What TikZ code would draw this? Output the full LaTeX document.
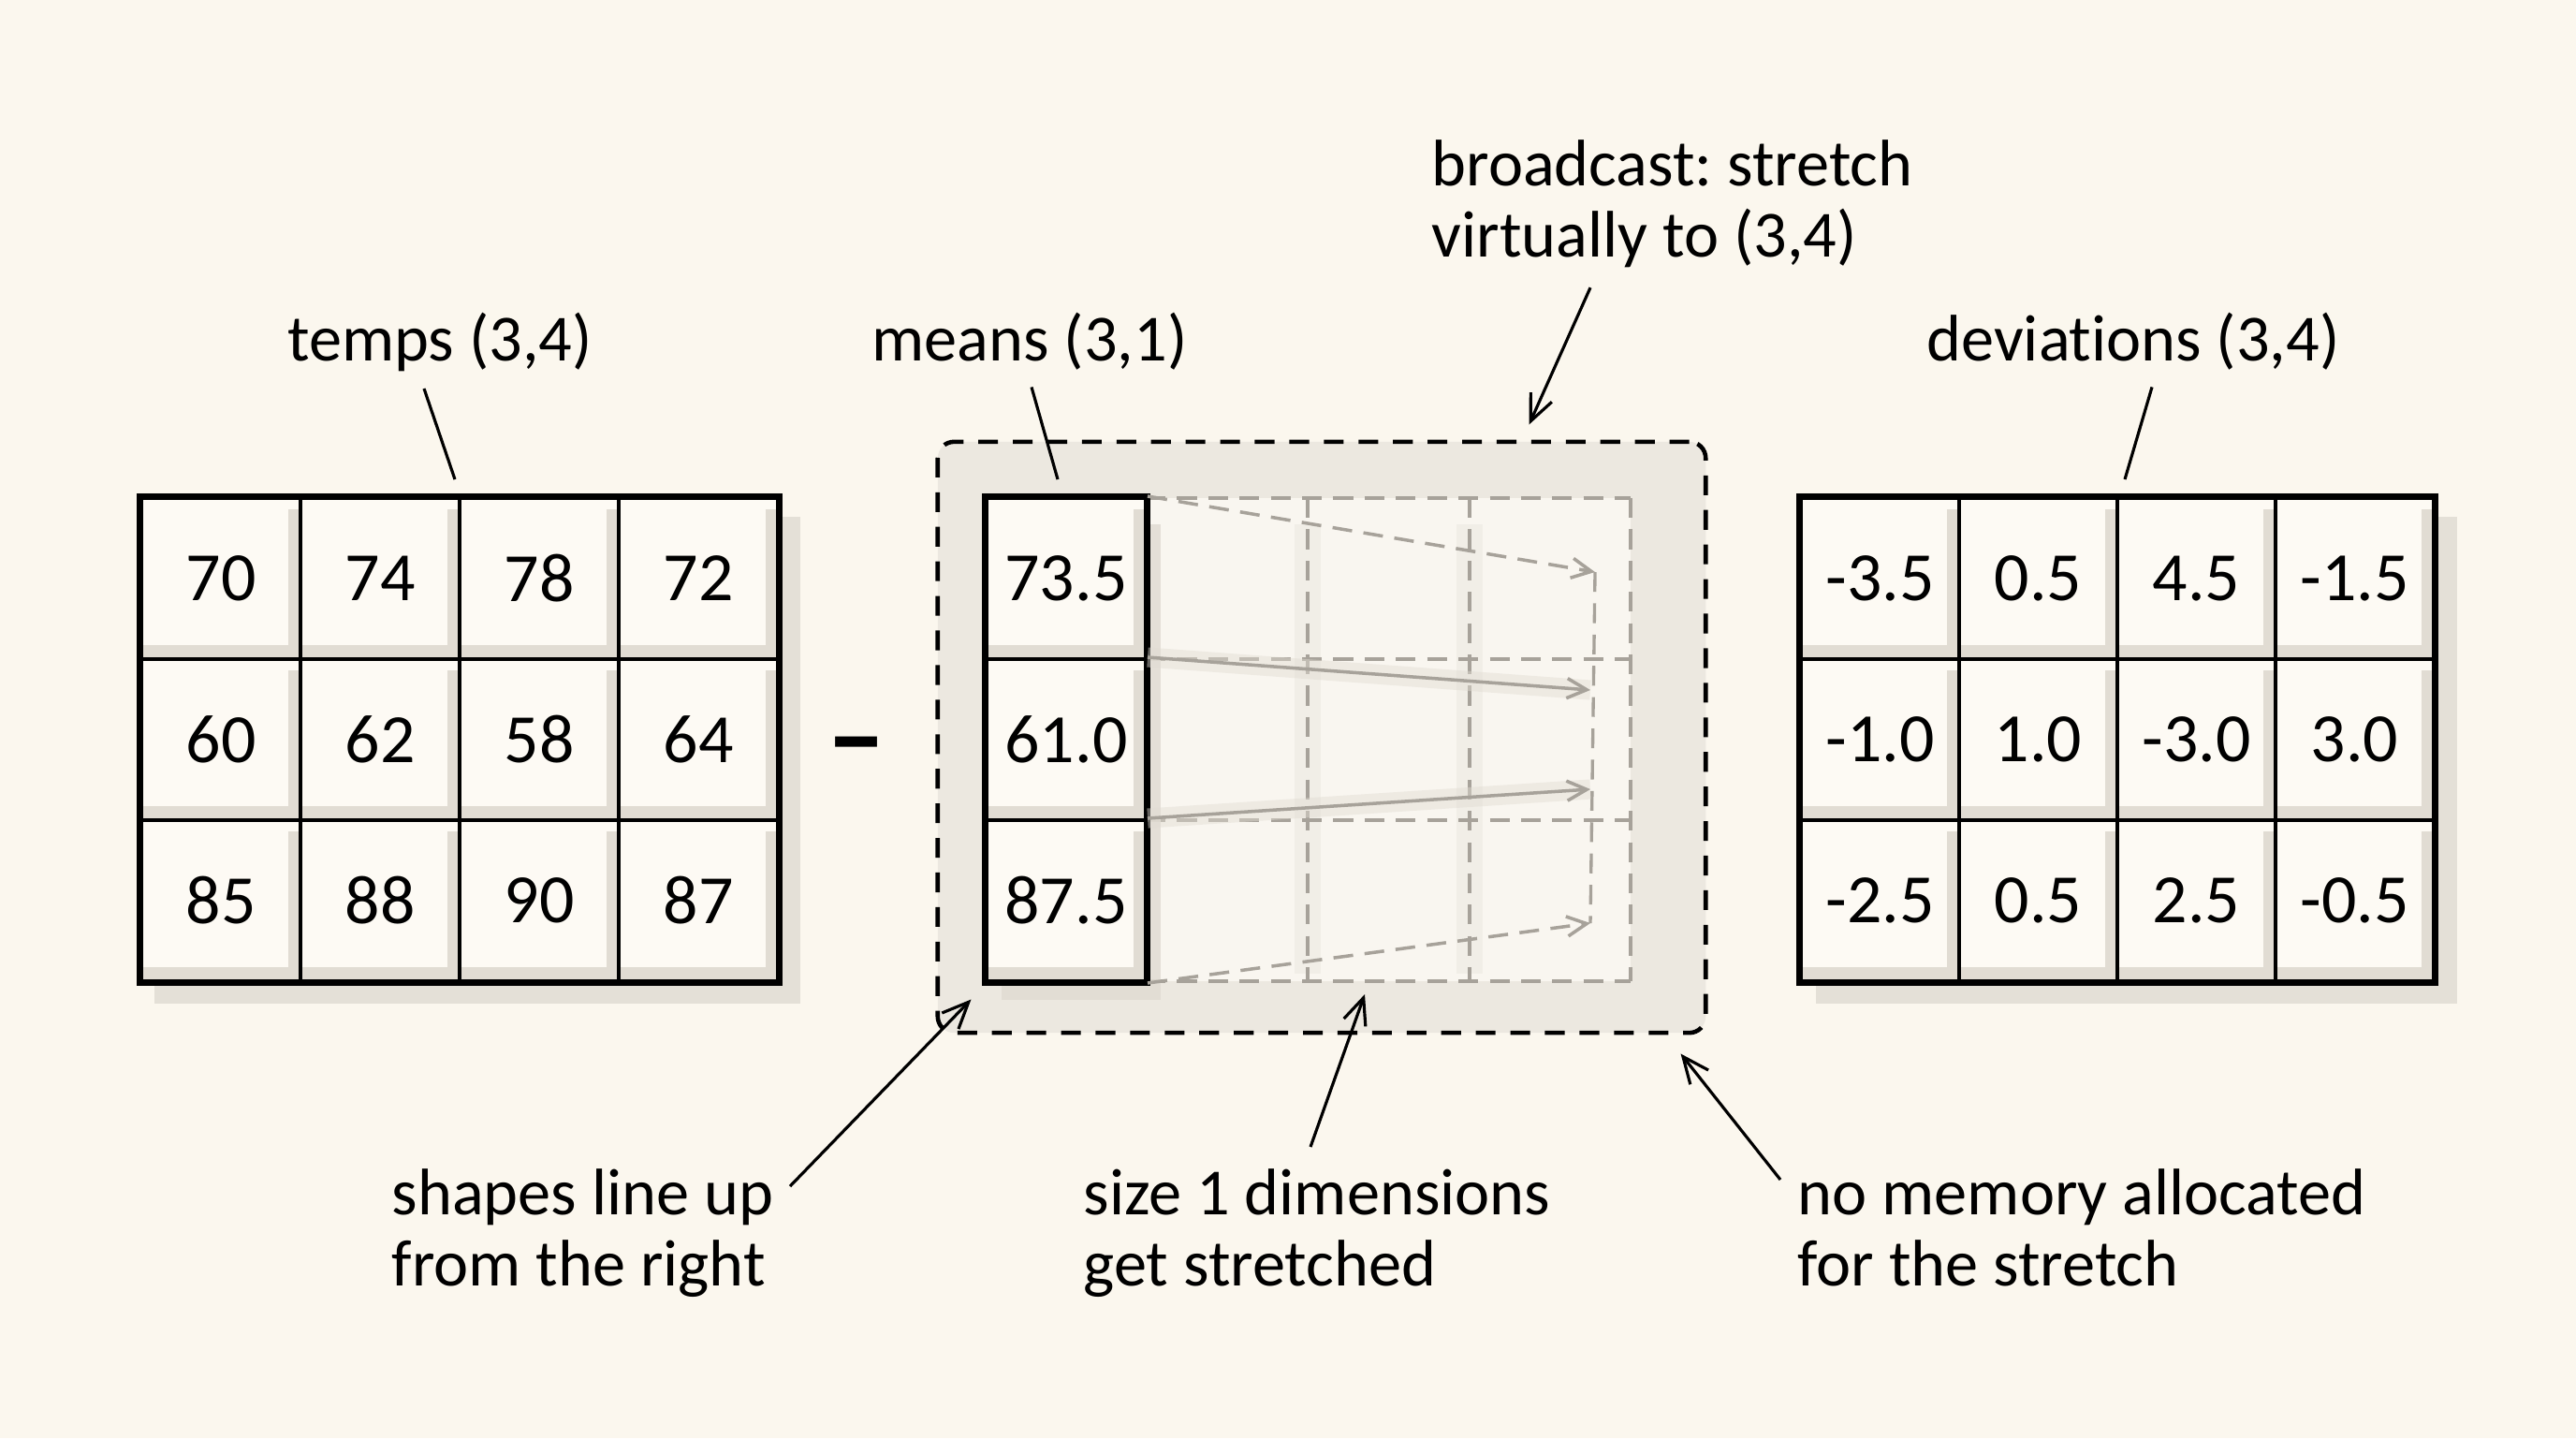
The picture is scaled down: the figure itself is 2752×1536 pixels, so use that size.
\documentclass[tikz,border=0pt]{standalone}
\usepackage{fontspec}
\setmainfont{Carlito}[Ligatures={NoCommon,NoRare,NoContextual,NoRequired}]
\usetikzlibrary{arrows.meta,positioning}
\frenchspacing

\definecolor{paper}{HTML}{FBF7EE}
\definecolor{cellpaper}{HTML}{FDFAF4}
\definecolor{wash}{HTML}{E1DCD3}
\definecolor{washlight}{HTML}{ECE8E0}
\definecolor{ghostgray}{HTML}{A7A29A}

\begin{document}
\begin{tikzpicture}[x=0.01cm,y=-0.01cm]
\tikzset{
  gridcell/.style={draw=black,line width=1.1pt,fill=cellpaper,minimum width=1.7cm,minimum height=1.72cm,inner sep=0pt,
    font=\fontsize{21}{21}\selectfont,
    path picture={
      \fill[wash] ([xshift=-0.13cm,yshift=-0.12cm]path picture bounding box.north east) rectangle (path picture bounding box.south east);
      \fill[wash] ([yshift=0.15cm]path picture bounding box.south west) rectangle (path picture bounding box.south east);
    }},
  gridframe/.style={draw=black,line width=1.6pt},
  gridshadow/.style={fill=wash,opacity=0.85},
  labeltext/.style={font=\fontsize{20}{21.5}\selectfont,inner sep=0pt},
  notetext/.style={labeltext,align=left,anchor=north west},
  leader/.style={draw=black,line width=0.9pt},
  callout/.style={leader,-{Straight Barb[length=8pt,width=7pt,line width=0.9pt]}},
  ghostline/.style={draw=ghostgray,line width=0.95pt,dash pattern=on 6pt off 3.5pt},
  stretcharrow/.style={draw=ghostgray,line width=1pt,-{Straight Barb[length=6pt,width=6pt]}},
  stretchbox/.style={draw=black,line width=1.3pt,dash pattern=on 6pt off 4.5pt,rounded corners=5pt,fill=washlight,
    minimum width=8.2cm,minimum height=6.31cm,inner sep=0pt}
}
% paper
\fill[paper] (0,0) rectangle (2752,1536);
\useasboundingbox (0,0) rectangle (2752,1536);

% temps grid
\fill[gridshadow] (165,552) rectangle (855,1072);
\foreach \r/\vals in {1/{70,74,78,72},2/{60,62,58,64},3/{85,88,90,87}}
  \foreach \v [count=\c] in \vals
    \node[gridcell] (t\r\c) at ({151+170*(\c-0.5)},{532+172*(\r-0.5)}) {\v};
\draw[gridframe] (t11.north west) rectangle (t34.south east);

\node[font=\fontsize{36}{36}\selectfont\bfseries] (minus) at (915,808) {–};

% broadcast box with the virtual columns
\node[stretchbox] (bbox) at (1412,787.5) {};
\fill[cellpaper,opacity=0.8] (1224,532) rectangle (1742,1048);
\foreach \gx in {1397,1570}
  \fill[wash,opacity=0.3] (\gx-14,560) rectangle (\gx+14,1040);
\foreach \gy in {532,704,876,1048}
  \draw[ghostline] (1224,\gy) -- (1742,\gy);
\foreach \gx in {1397,1570,1742}
  \draw[ghostline] (\gx,532) -- (\gx,1048);

% means column
\fill[gridshadow] (1070,560) rectangle (1240,1068);
\foreach \v [count=\r] in {73.5,61.0,87.5}
  \node[gridcell] (m\r) at (1139,{532+172*(\r-0.5)}) {\v};
\draw[gridframe] (m1.north west) rectangle (m3.south east);

\coordinate (tip1) at (1704,611);
\coordinate (tip2) at (1699,737);
\coordinate (tip3) at (1699,843);
\coordinate (tip4) at (1699,986);
\draw[ghostline] (tip1) -- (tip4);
\draw[wash,line width=6pt,opacity=0.45] (m2.north east) -- (tip2);
\draw[wash,line width=6pt,opacity=0.45] (m3.north east) -- (tip3);
\draw[stretcharrow,dash pattern=on 6pt off 3.5pt] (m1.north east) -- (tip1);
\draw[stretcharrow] (m2.north east) -- (tip2);
\draw[stretcharrow] (m3.north east) -- (tip3);
\draw[stretcharrow,dash pattern=on 6pt off 3.5pt] (m3.south east) -- (tip4);

% deviations grid
\fill[gridshadow] (1940,552) rectangle (2625,1072);
\foreach \r/\vals in {1/{-3.5,0.5,4.5,-1.5},2/{-1.0,1.0,-3.0,3.0},3/{-2.5,0.5,2.5,-0.5}}
  \foreach \v [count=\c] in \vals
    \node[gridcell,minimum width=1.69cm] (d\r\c) at ({1924+169*(\c-0.5)},{532+172*(\r-0.5)}) {\v};
\draw[gridframe] (d11.north west) rectangle (d34.south east);

% titles
\node[labeltext,anchor=base] (temps) at (470,385) {temps (3,4)};
\node[labeltext,anchor=base] (means) at (1100,385) {means (3,1)};
\node[labeltext,anchor=base] (devs) at (2279,385) {deviat\kern0pt ions (3,4)};
\draw[leader] ([shift={(-17,18)}]temps.south) -- ([shift={(-7,-18)}]t12.north east);
\draw[leader] ([shift={(2,18)}]means.south) -- ([shift={(-9,-18)}]m1.north);
\draw[leader] ([shift={(20,18)}]devs.south) -- ([shift={(6,-18)}]d12.north east);

% notes
\node[notetext] (broad) at (1529,149) {broadcast: stretch\\virtually to (3,4)};
\draw[callout] ([shift={(170,21)}]broad.south west) -- ([shift={(634,-16)}]bbox.north west);
\node[notetext] (lineup) at (418,1248) {shapes line up\\from the right};
\node[notetext] (sizeone) at (1157,1248) {size 1 dimensions\\get stretched};
\node[notetext] (nomem) at (1920,1248) {no memory allocated\\for the stretch};
\draw[callout] ([shift={(426,19)}]lineup.north west) -- ([shift={(38,-38)}]bbox.south west);
\draw[callout] ([shift={(243,-23)}]sizeone.north west) -- ([shift={(232,12)}]m3.south east);
\draw[callout] ([shift={(-18,12)}]nomem.north west) -- ([shift={(-29,20)}]bbox.south east);
\end{tikzpicture}
\end{document}
